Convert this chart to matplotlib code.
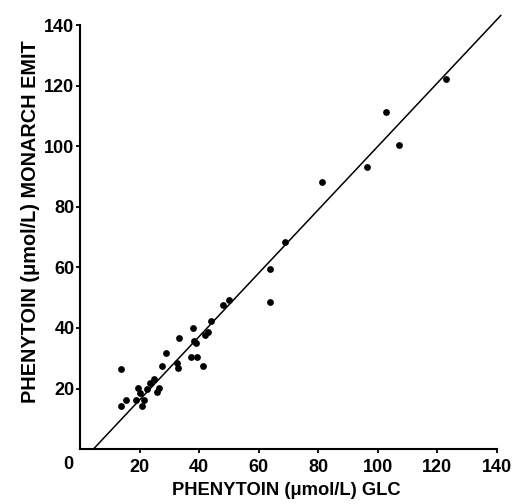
import numpy as np
import matplotlib.pyplot as plt
from matplotlib.transforms import offset_copy

# phenytoin, GLC (x) vs Monarch EMIT (y), umol/L
glc = [13.8, 13.8, 15.6, 18.7, 19.6, 20.2, 21.4, 20.7, 22.4, 23.6,
       24.7, 26.7, 26.0, 27.7, 28.8, 32.6, 32.8, 33.1, 37.9, 38.2,
       39.0, 37.4, 39.3, 41.2, 42.1, 43.1, 44.1, 48.0, 50.2, 64.0,
       64.0, 69.0, 81.4, 96.5, 102.7, 107.2, 122.9]
emit = [26.3, 14.2, 16.3, 16.3, 20.2, 18.4, 16.2, 14.2, 20.0, 21.8,
        23.1, 20.3, 18.9, 27.3, 31.7, 28.3, 26.8, 36.7, 39.9, 35.7,
        34.9, 30.3, 30.3, 27.4, 37.6, 38.7, 42.2, 47.5, 49.2, 48.6,
        59.6, 68.4, 88.2, 93.0, 111.3, 100.5, 122.1]

# regression line
slope = 1.046
intercept = -4.7
fit_x = [4.5, 141.4]

ticks = [20, 40, 60, 80, 100, 120, 140]

plt.rcParams['font.family'] = ['Liberation Sans', 'DejaVu Sans']
plt.rcParams['font.weight'] = 'bold'

fig = plt.figure(figsize=(5.13, 5.04), dpi=100)
ax = fig.add_axes([0.156, 0.109, 0.812, 0.841])

ax.scatter(glc, emit, s=24, color='black', zorder=3, linewidths=0)
fx = np.array(fit_x)
ax.plot(fx, slope * fx + intercept, color='black', lw=1.1, clip_on=False)

ax.set_xlim(0, 140)
ax.set_ylim(0, 140)
ax.set_xticks(ticks)
ax.set_yticks(ticks)
ax.tick_params(labelsize=13, length=3, width=1.3)
ax.tick_params(axis='x', pad=4)
ax.tick_params(axis='y', pad=1)
for lab in ax.get_xticklabels() + ax.get_yticklabels():
    lab.set_fontweight('bold')

for s in ['top', 'right']:
    ax.spines[s].set_visible(False)
for s in ['left', 'bottom']:
    ax.spines[s].set_linewidth(1.5)

# shared origin label
ax.text(0, 0, '0', fontsize=13, fontweight='bold', ha='right', va='top',
        transform=offset_copy(ax.transData, fig=fig, x=-7, y=-7, units='dots'))

ax.set_xlabel('PHENYTOIN (\u03bcmol/L) GLC', fontsize=13.2, fontweight='bold')
ax.set_ylabel('PHENYTOIN (\u03bcmol/L) MONARCH EMIT', fontsize=14.3, fontweight='bold')
ax.xaxis.set_label_coords(0.495, -0.078)
ax.yaxis.set_label_coords(-0.095, 0.537)

fig.savefig('out.png', dpi=100)
